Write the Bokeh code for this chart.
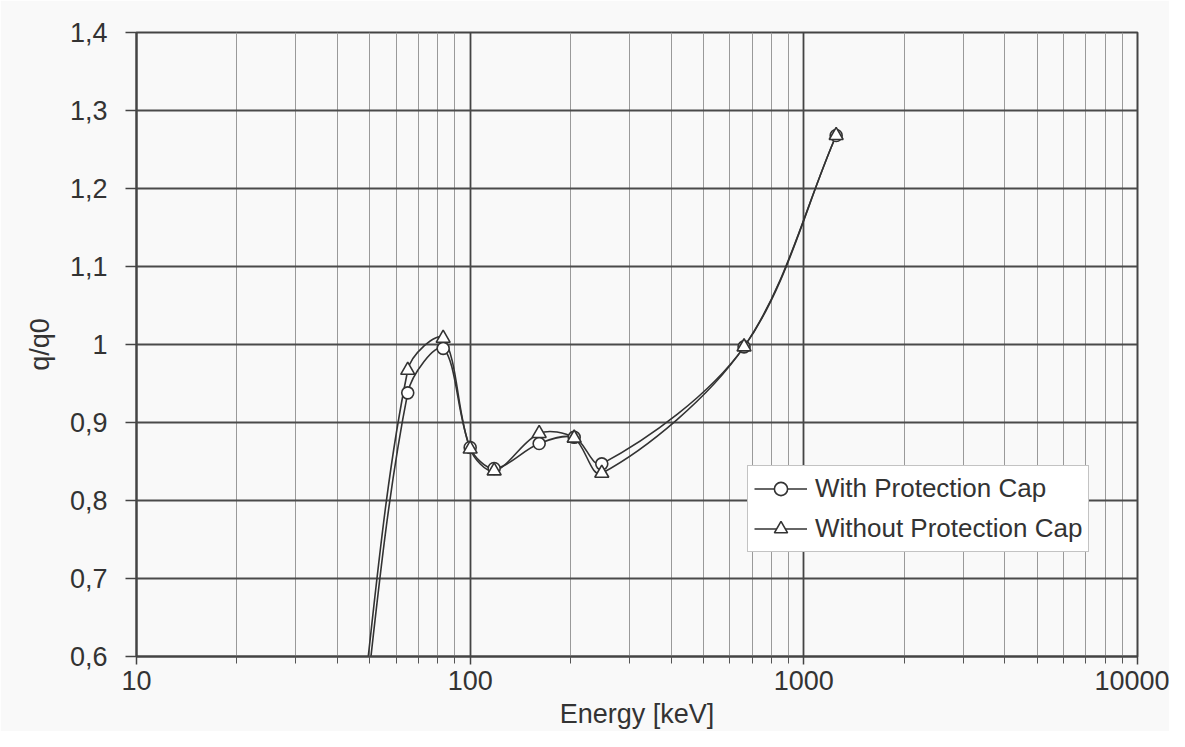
import math
from bokeh.plotting import figure
from bokeh.models import FixedTicker, CustomJSTickFormatter, Legend, LegendItem, Range1d
from bokeh.embed import file_html
from bokeh.resources import INLINE

# --- data ---
energy = [45, 65, 83, 100, 118, 161, 205, 248, 662, 1250]
with_cap = [0.42, 0.938, 0.995, 0.868, 0.841, 0.873, 0.881, 0.847, 0.997, 1.268]
without_cap = [0.45, 0.967, 1.008, 0.866, 0.838, 0.886, 0.880, 0.835, 0.997, 1.268]

x_major = [10, 100, 1000, 10000]
x_minor = [m * d for d in (10, 100, 1000) for m in range(2, 10)]
y_ticks = [0.6, 0.7, 0.8, 0.9, 1.0, 1.1, 1.2, 1.3, 1.4]

BG = "#f9f9f9"
INK = "#333333"
FONT = "Liberation Sans"

# approximate on-screen aspect of one log decade vs one unit of q/q0 (for smoothing)
PX_PER_DECADE = 334.0
PX_PER_UNIT = 780.0
TENSION = 0.33


def smooth_segments(xs, ys):
    """Bezier segments (smoothed line, length-weighted Catmull-Rom) between
    consecutive points, computed in log-x space."""
    lx = [math.log10(v) for v in xs]
    n = len(xs)

    def dist(i, j):
        return math.hypot((lx[j] - lx[i]) * PX_PER_DECADE, (ys[j] - ys[i]) * PX_PER_UNIT)

    out_cp, in_cp = [], []
    for i in range(n):
        a = max(i - 1, 0)
        b = min(i + 1, n - 1)
        tx, ty = lx[b] - lx[a], ys[b] - ys[a]
        dp = dist(a, i) if i > 0 else 0.0
        dn = dist(i, b) if i < n - 1 else 0.0
        s = dp + dn
        fo = TENSION * dn / s if s else 0
        fi = TENSION * dp / s if s else 0
        out_cp.append((lx[i] + tx * fo, ys[i] + ty * fo))
        in_cp.append((lx[i] - tx * fi, ys[i] - ty * fi))

    out = {k: [] for k in ("x0", "y0", "x1", "y1", "cx0", "cy0", "cx1", "cy1")}
    for i in range(n - 1):
        out["x0"].append(xs[i]); out["y0"].append(ys[i])
        out["x1"].append(xs[i + 1]); out["y1"].append(ys[i + 1])
        out["cx0"].append(10 ** out_cp[i][0]); out["cy0"].append(out_cp[i][1])
        out["cx1"].append(10 ** in_cp[i + 1][0]); out["cy1"].append(in_cp[i + 1][1])
    return out


p = figure(width=1169, height=731, x_axis_type="log",
           x_range=Range1d(10, 10000), y_range=Range1d(0.6, 1.4),
           output_backend="svg", toolbar_location=None,
           min_border_left=136, min_border_right=32,
           min_border_top=32, min_border_bottom=75,
           background_fill_color=BG, border_fill_color=BG,
           outline_line_color="#444444", outline_line_width=2)

xt = FixedTicker(ticks=x_major, minor_ticks=x_minor)
yt = FixedTicker(ticks=y_ticks, minor_ticks=[])
p.xaxis.ticker = xt
p.xgrid.ticker = xt
p.yaxis.ticker = yt
p.ygrid.ticker = yt

p.xaxis.formatter = CustomJSTickFormatter(code="return tick.toFixed(0);")
p.yaxis.formatter = CustomJSTickFormatter(
    code="return (Math.round(tick*10)/10).toString().replace('.', ',');")

p.xgrid.grid_line_color = "#444444"
p.xgrid.grid_line_width = 1.8
p.xgrid.minor_grid_line_color = "#9a9a9a"
p.xgrid.minor_grid_line_width = 1
p.ygrid.grid_line_color = "#4a4a4a"
p.ygrid.grid_line_width = 1.8

for ax in (p.xaxis[0], p.yaxis[0]):
    ax.axis_line_color = "#444444"
    ax.axis_line_width = 2
    ax.major_tick_line_color = "#444444"
    ax.major_tick_line_width = 1.5
    ax.major_tick_in = 0
    ax.minor_tick_in = 0
    ax.minor_tick_line_color = "#555555"
    ax.major_label_text_font = FONT
    ax.major_label_text_font_size = "27px"
    ax.major_label_text_color = INK
    ax.axis_label_text_font = FONT
    ax.axis_label_text_font_size = "27px"
    ax.axis_label_text_font_style = "normal"
    ax.axis_label_text_color = INK

p.xaxis.major_tick_out = 8
p.xaxis.minor_tick_out = 7
p.xaxis.major_label_standoff = 6
p.xaxis.axis_label = "Energy [keV]"
p.xaxis.axis_label_standoff = 6
p.yaxis.major_tick_out = 11
p.yaxis.minor_tick_out = 0
p.yaxis.major_label_standoff = 18
p.yaxis.axis_label = "q/q0"
p.yaxis.axis_label_standoff = 12

seg1 = smooth_segments(energy, with_cap)
seg2 = smooth_segments(energy, without_cap)
line_kw = dict(line_color=INK, line_width=1.6)
b1 = p.bezier(x0=seg1["x0"], y0=seg1["y0"], x1=seg1["x1"], y1=seg1["y1"],
              cx0=seg1["cx0"], cy0=seg1["cy0"], cx1=seg1["cx1"], cy1=seg1["cy1"], **line_kw)
b2 = p.bezier(x0=seg2["x0"], y0=seg2["y0"], x1=seg2["x1"], y1=seg2["y1"],
              cx0=seg2["cx0"], cy0=seg2["cy0"], cx1=seg2["cx1"], cy1=seg2["cy1"], **line_kw)

s1 = p.scatter(energy, with_cap, marker="circle", size=12,
               fill_color="white", line_color=INK, line_width=1.6)
s2 = p.scatter(energy, without_cap, marker="triangle", size=14,
               fill_color="white", line_color=INK, line_width=1.6)

legend = Legend(items=[
    LegendItem(label="With Protection Cap", renderers=[b1, s1], index=0),
    LegendItem(label="Without Protection Cap", renderers=[b2, s2], index=0),
], location=(611, 104))
legend.label_text_font = FONT
legend.label_text_font_size = "26px"
legend.label_text_color = INK
legend.glyph_width = 53
legend.glyph_height = 33
legend.label_height = 33
legend.label_standoff = 8
legend.spacing = 7
legend.padding = 6
legend.margin = 0
legend.border_line_color = "#888888"
legend.border_line_width = 1.5
legend.background_fill_color = "white"
legend.background_fill_alpha = 1
p.add_layout(legend)

open("out.html", "w").write(file_html(p, INLINE))
